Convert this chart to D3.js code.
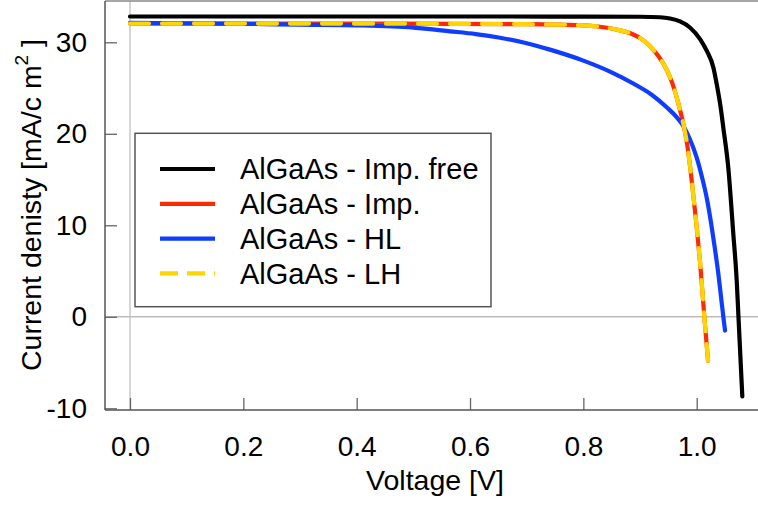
<!DOCTYPE html>
<html>
<head>
<meta charset="utf-8">
<script src="https://cdn.jsdelivr.net/npm/d3@7"></script>
<style>
  html, body { margin: 0; padding: 0; background: #fff; }
  svg { display: block; }
  text { font-family: "Liberation Sans", Arial, Helvetica, sans-serif; fill: #000; }
</style>
</head>
<body>
<svg id="chart" width="758" height="505"></svg>
<script>
// ---- data ----
const seriesNames = ["AlGaAs - Imp. free", "AlGaAs - Imp.", "AlGaAs - HL", "AlGaAs - LH"];
const seriesColors = ["#000000", "#ff2a00", "#0f3cff", "#ffd500"];

const impFreeV = [0, 0.2, 0.4, 0.6, 0.8, 0.9, 0.935, 0.953, 0.9706, 0.988, 1.0059, 1.0176, 1.0294, 1.0353, 1.0423, 1.0469, 1.0557, 1.0646, 1.0706, 1.0737, 1.0805];
const impFreeJ = [32.82, 32.82, 32.82, 32.82, 32.81, 32.79, 32.74, 32.6, 32.28, 31.62, 30.35, 29.08, 27.25, 25.44, 22.88, 20.7, 16.33, 9.06, 3.96, 0, -8.7];

const impV = [0, 0.2, 0.4, 0.565, 0.7, 0.8, 0.829, 0.858, 0.888, 0.903, 0.918, 0.933, 0.947, 0.956, 0.965, 0.976, 0.982, 0.988, 0.994, 1.0, 1.006, 1.0135, 1.02];
const impJ = [32.05, 32.05, 32.04, 32.02, 31.98, 31.85, 31.7, 31.4, 30.85, 30.35, 29.55, 28.45, 27.0, 25.7, 23.9, 21.2, 19.3, 16.6, 13.3, 9.8, 5.9, 0, -4.8];

const hlV = [0, 0.1, 0.2, 0.3, 0.4, 0.5, 0.565, 0.61, 0.653, 0.7, 0.741, 0.8, 0.847, 0.888, 0.92, 0.947, 0.965, 0.976, 0.988, 1.0, 1.01, 1.018, 1.026, 1.032, 1.038, 1.044, 1.047, 1.05];
const hlJ = [32.12, 32.08, 32.02, 31.93, 31.85, 31.6, 31.2, 30.9, 30.5, 29.9, 29.2, 28.0, 26.8, 25.5, 24.3, 22.9, 21.8, 20.9, 19.4, 17.4, 15.1, 12.9, 10.0, 7.5, 4.8, 1.6, 0, -1.5];

const lhV = [0, 0.2, 0.4, 0.565, 0.7, 0.8, 0.829, 0.858, 0.888, 0.903, 0.918, 0.933, 0.947, 0.956, 0.965, 0.976, 0.982, 0.988, 0.994, 1.0, 1.006, 1.0135, 1.02];
const lhJ = [32.05, 32.05, 32.04, 32.02, 31.98, 31.85, 31.7, 31.4, 30.85, 30.35, 29.55, 28.45, 27.0, 25.7, 23.9, 21.2, 19.3, 16.6, 13.3, 9.8, 5.9, 0, -4.8];

const xTicks = [0, 0.2, 0.4, 0.6, 0.8, 1.0];
const yTicks = [-10, 0, 10, 20, 30];
const xTitle = "Voltage [V]";

// ---- layout ----
const svg = d3.select("#chart");
const plotLeft = 105, plotTop = 1, plotBottom = 410, plotRight = 760;
const x = d3.scaleLinear().domain([0, 1]).range([130, 696.7]);
const y = d3.scaleLinear().domain([-10, 30]).range([408.3, 42.3]);

// reference lines (V = 0, J = 0)
svg.append("line").attr("x1", x(0)).attr("x2", x(0)).attr("y1", plotTop).attr("y2", plotBottom)
  .attr("stroke", "#c8c8c8").attr("stroke-width", 1.5);
svg.append("line").attr("x1", plotLeft).attr("x2", plotRight).attr("y1", y(0)).attr("y2", y(0))
  .attr("stroke", "#bdbdbd").attr("stroke-width", 1.5);

// axes
const xAxis = d3.axisBottom(x).tickValues(xTicks).tickSize(-12).tickPadding(26).tickFormat(d3.format(".1f"));
const gx = svg.append("g").attr("transform", `translate(0,${plotBottom})`).call(xAxis);
gx.select(".domain").remove();
gx.selectAll("line").attr("stroke", "#666").attr("stroke-width", 1.3);
gx.selectAll("text").attr("font-size", 28).attr("fill", "#000")
  .style("font-family", '"Liberation Sans", Arial, sans-serif');

const yAxis = d3.axisLeft(y).tickValues(yTicks).tickSize(-12).tickPadding(18)
  .tickFormat(d => String(d));
const gy = svg.append("g").attr("transform", `translate(${plotLeft},0)`).call(yAxis);
gy.select(".domain").remove();
gy.selectAll("line").attr("stroke", "#666").attr("stroke-width", 1.3);
gy.selectAll("text").attr("font-size", 28).attr("fill", "#000")
  .style("font-family", '"Liberation Sans", Arial, sans-serif');

// frame
svg.append("line").attr("x1", plotLeft).attr("x2", plotRight).attr("y1", plotTop).attr("y2", plotTop)
  .attr("stroke", "#8a8a8a").attr("stroke-width", 1.5);
svg.append("line").attr("x1", plotLeft).attr("x2", plotRight).attr("y1", plotBottom).attr("y2", plotBottom)
  .attr("stroke", "#555").attr("stroke-width", 1.5);
svg.append("line").attr("x1", plotLeft).attr("x2", plotLeft).attr("y1", plotTop).attr("y2", plotBottom)
  .attr("stroke", "#555").attr("stroke-width", 1.5);

// curves
const line = d3.line().x(d => x(d[0])).y(d => y(d[1])).curve(d3.curveMonotoneX);
const zip = (a, b) => a.map((v, i) => [v, b[i]]);
const series = [
  { data: zip(impFreeV, impFreeJ), color: seriesColors[0], dash: null },
  { data: zip(impV, impJ), color: seriesColors[1], dash: null },
  { data: zip(hlV, hlJ), color: seriesColors[2], dash: null },
  { data: zip(lhV, lhJ), color: seriesColors[3], dash: "19,13" }
];
series.forEach(s => {
  svg.append("path").datum(s.data).attr("d", line)
    .attr("fill", "none").attr("stroke", s.color).attr("stroke-width", 4.2)
    .attr("stroke-linecap", "round").attr("stroke-linejoin", "round")
    .attr("stroke-dasharray", s.dash);
});

// legend
const lg = svg.append("g");
lg.append("rect").attr("x", 135).attr("y", 133.3).attr("width", 356).attr("height", 173.4)
  .attr("fill", "#fff").attr("stroke", "#555").attr("stroke-width", 1.5);
seriesNames.forEach((name, i) => {
  const yy = 169 + i * 34.8;
  lg.append("line").attr("x1", 160).attr("x2", 215).attr("y1", yy).attr("y2", yy)
    .attr("stroke", seriesColors[i]).attr("stroke-width", 4.2)
    .attr("stroke-dasharray", i === 3 ? "18,9" : null);
  lg.append("text").attr("x", 240).attr("y", yy).attr("dy", "0.36em")
    .attr("font-size", 29).text(name);
});

// axis titles
svg.append("text").attr("x", 435).attr("y", 490).attr("text-anchor", "middle")
  .attr("font-size", 28.5).text(xTitle);
const yt = svg.append("text").attr("transform", "translate(41,205) rotate(-90)")
  .attr("text-anchor", "middle").attr("font-size", 28.5);
yt.append("tspan").text("Current denisty [mA/c m");
yt.append("tspan").attr("font-size", 19).attr("dy", -13).text("2");
yt.append("tspan").attr("dy", 13).text(" ]");
</script>
</body>
</html>
